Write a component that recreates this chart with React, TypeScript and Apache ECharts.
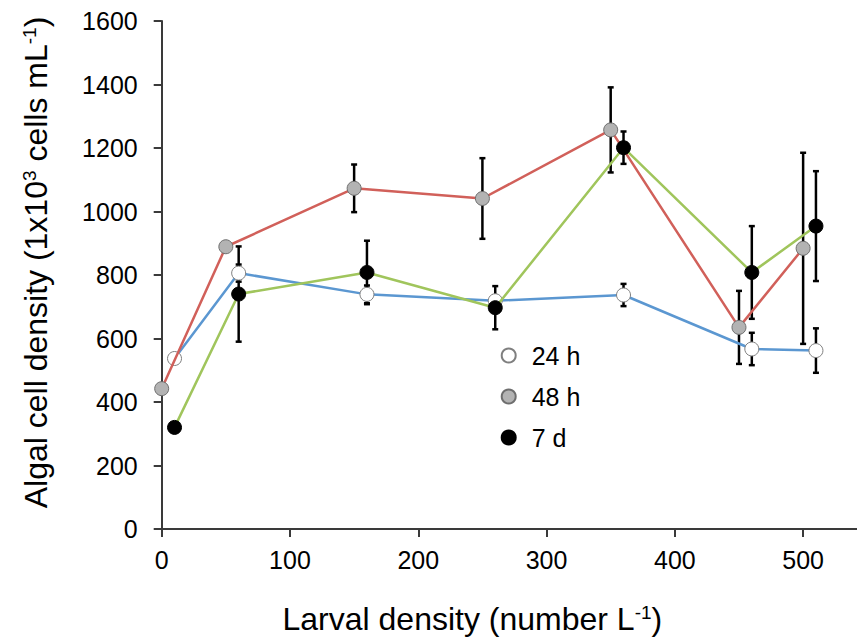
import React, { useEffect, useRef } from "react";
import * as echarts from "echarts";

const X24 = [10, 60, 160, 260, 360, 460, 510];
const V24 = [537, 806, 739, 719, 737, 567, 562];
const E24 = [0, 27, 28, 15, 35, 51, 70];

const X48 = [0, 50, 150, 250, 350, 450, 500];
const V48 = [442, 889, 1073, 1041, 1257, 635, 884];
const E48 = [0, 0, 75, 127, 134, 115, 301];

const X7 = [10, 60, 160, 260, 360, 460, 510];
const V7 = [320, 740, 808, 697, 1201, 808, 954];
const E7 = [0, 150, 100, 68, 51, 146, 173];

const SERIES_NAMES = ["24 h", "48 h", "7 d"];
const X_TICKS = [0, 100, 200, 300, 400, 500];

const FONT = "'Liberation Sans', Arial, Helvetica, sans-serif";

function pts(xs: number[], vs: number[]) {
  return xs.map((x, i) => [x, vs[i]]);
}
function errs(xs: number[], vs: number[], es: number[]) {
  return xs
    .map((x, i) => [x, vs[i] - es[i], vs[i] + es[i]])
    .filter((_, i) => es[i] > 0);
}

const renderErr = (params: any, api: any) => {
  const x = api.value(0);
  const lo = api.coord([x, api.value(1)]);
  const hi = api.coord([x, api.value(2)]);
  const st = { stroke: "#000", lineWidth: 2.5 };
  const cw = 3;
  return {
    type: "group",
    children: [
      { type: "line", shape: { x1: lo[0], y1: lo[1], x2: hi[0], y2: hi[1] }, style: st },
      { type: "line", shape: { x1: lo[0] - cw, y1: lo[1], x2: lo[0] + cw, y2: lo[1] }, style: st },
      { type: "line", shape: { x1: hi[0] - cw, y1: hi[1], x2: hi[0] + cw, y2: hi[1] }, style: st },
    ],
  };
};

export default function App() {
  const ref = useRef<HTMLDivElement>(null);
  useEffect(() => {
    if (!ref.current) return;
    const chart = echarts.init(ref.current, undefined, { renderer: "svg" });
    const axisLineStyle = { color: "#3a3a3a", width: 2 };
    const errSeries = [
      errs(X24, V24, E24),
      errs(X48, V48, E48),
      errs(X7, V7, E7),
    ].map((d) => ({
      type: "custom",
      renderItem: renderErr,
      data: d,
      encode: { x: 0, y: [1, 2] },
      z: 1,
      clip: false,
      silent: true,
    }));
    chart.setOption({
      animation: false,
      textStyle: { fontFamily: FONT },
      grid: { left: 161.7, right: 0, top: 21, bottom: 109, containLabel: false },
      legend: {
        data: SERIES_NAMES,
        orient: "vertical",
        left: 495.7,
        top: 338,
        itemWidth: 36,
        itemHeight: 14,
        itemGap: 16,
        icon: "circle",
        selectedMode: false,
        textStyle: { fontSize: 25, color: "#000", fontFamily: FONT },
      },
      xAxis: {
        type: "value",
        min: 0,
        max: 542,
        interval: 100,
        splitLine: { show: false },
        axisLine: { show: true, onZero: false, lineStyle: axisLineStyle },
        axisTick: { show: true, length: 8, lineStyle: axisLineStyle, customValues: X_TICKS },
        axisLabel: {
          margin: 18,
          fontSize: 25,
          color: "#000",
          fontFamily: FONT,
          customValues: X_TICKS,
          formatter: (v: number) => (v % 100 === 0 ? String(v) : ""),
        },
        name: "{n|Larval density (number L}{s|-1}{n|)}",
        nameLocation: "middle",
        nameGap: 74,
        nameTextStyle: {
          padding: [0, 74, 0, 0],
          rich: {
            n: { fontSize: 32, color: "#000", fontFamily: FONT },
            s: { fontSize: 19, color: "#000", fontFamily: FONT, verticalAlign: "top" },
          },
        },
      },
      yAxis: {
        type: "value",
        min: 0,
        max: 1600,
        interval: 200,
        splitLine: { show: false },
        axisLine: { show: true, lineStyle: axisLineStyle },
        axisTick: { show: true, length: 8, lineStyle: axisLineStyle },
        axisLabel: {
          margin: 24,
          fontSize: 25,
          color: "#000",
          fontFamily: FONT,
          formatter: (v: number) => String(v),
        },
        name: "{n|Algal cell density (1x10}{s|3}{n| cells mL}{s|-1}{n|)}",
        nameLocation: "middle",
        nameGap: 110,
        nameTextStyle: {
          padding: [0, 0, 0, 25],
          rich: {
            n: { fontSize: 32, color: "#000", fontFamily: FONT },
            s: { fontSize: 19, color: "#000", fontFamily: FONT, verticalAlign: "top" },
          },
        },
      },
      series: [
        ...errSeries,
        {
          name: "24 h",
          type: "line",
          data: pts(X24, V24),
          z: 3,
          symbol: "circle",
          symbolSize: 14,
          lineStyle: { color: "#5b97d1", width: 2.5 },
          itemStyle: { color: "#ffffff", borderColor: "#7f7f7f", borderWidth: 1 },
        },
        {
          name: "48 h",
          type: "line",
          data: pts(X48, V48),
          z: 4,
          symbol: "circle",
          symbolSize: 14,
          lineStyle: { color: "#d1605a", width: 2.5 },
          itemStyle: { color: "#b3b3b3", borderColor: "#6e6e6e", borderWidth: 1 },
        },
        {
          name: "7 d",
          type: "line",
          data: pts(X7, V7),
          z: 5,
          symbol: "circle",
          symbolSize: 14,
          lineStyle: { color: "#a0c55c", width: 2.5 },
          itemStyle: { color: "#000000", borderColor: "#000000", borderWidth: 1 },
        },
      ],
    });
    return () => chart.dispose();
  }, []);
  return (
    <div
      ref={ref}
      style={{ position: "fixed", left: 0, top: 0, width: 857, height: 640, background: "#fff" }}
    />
  );
}
